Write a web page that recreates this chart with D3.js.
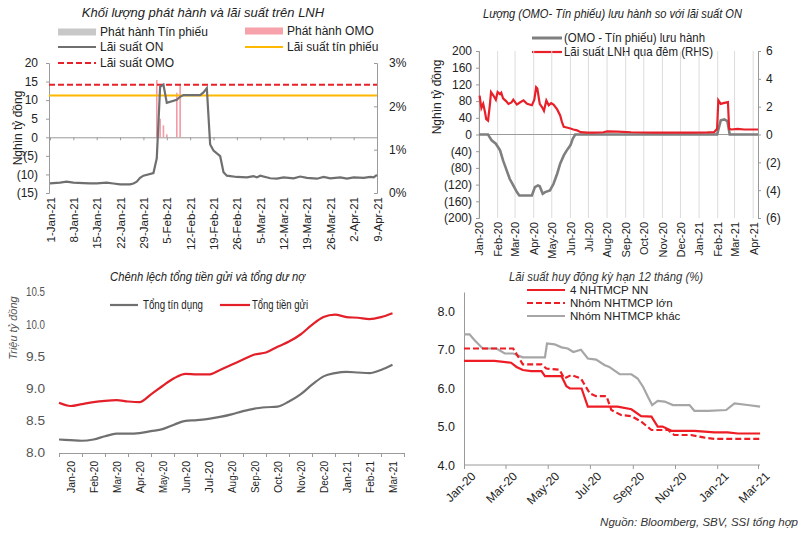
<!DOCTYPE html>
<html>
<head>
<meta charset="utf-8">
<script src="https://cdn.jsdelivr.net/npm/d3@7"></script>
<style>
  body { margin: 0; background: #fff; }
  svg { display: block; font-family: "Liberation Sans", Arial, sans-serif; }
  .axis path, .axis line { stroke: #9a9a9a; }
  .axis text { fill: #222; }
</style>
</head>
<body>
<svg id="chart" width="810" height="538"></svg>
<script>
// ---------- data: top-left (Jan-Apr 2021) ----------
const onRate = [
  ["2021-01-01", 0.22], ["2021-01-04", 0.24], ["2021-01-06", 0.26], ["2021-01-08", 0.24],
  ["2021-01-11", 0.23], ["2021-01-13", 0.22], ["2021-01-15", 0.22], ["2021-01-18", 0.24],
  ["2021-01-20", 0.22], ["2021-01-22", 0.20], ["2021-01-25", 0.20], ["2021-01-26", 0.22],
  ["2021-01-27", 0.26], ["2021-01-28", 0.35], ["2021-01-29", 0.40], ["2021-02-01", 0.46],
  ["2021-02-02", 0.80], ["2021-02-03", 2.45], ["2021-02-04", 2.50], ["2021-02-05", 2.08],
  ["2021-02-08", 2.15], ["2021-02-09", 2.22], ["2021-02-10", 2.26], ["2021-02-15", 2.26],
  ["2021-02-16", 2.32], ["2021-02-17", 2.42], ["2021-02-18", 1.12], ["2021-02-19", 0.98],
  ["2021-02-21", 0.85], ["2021-02-22", 0.48], ["2021-02-23", 0.40], ["2021-02-26", 0.37],
  ["2021-03-01", 0.36], ["2021-03-03", 0.39], ["2021-03-04", 0.36], ["2021-03-05", 0.40],
  ["2021-03-08", 0.34], ["2021-03-10", 0.33], ["2021-03-12", 0.36], ["2021-03-15", 0.34],
  ["2021-03-17", 0.38], ["2021-03-19", 0.35], ["2021-03-22", 0.33], ["2021-03-24", 0.37],
  ["2021-03-26", 0.34], ["2021-03-29", 0.36], ["2021-03-31", 0.33], ["2021-04-02", 0.36],
  ["2021-04-05", 0.35], ["2021-04-07", 0.37], ["2021-04-08", 0.36], ["2021-04-09", 0.42]
]
const omoIssue = [
  ["2021-02-02", 15.4], ["2021-02-03", 5.0], ["2021-02-04", 3.2],
  ["2021-02-05", 0.8], ["2021-02-08", 12.0], ["2021-02-09", 14.0]
]
const billIssue = []
const omoRate = 2.5
const billRate = 2.25
const tlLeftTicks = [-15, -10, -5, 0, 5, 10, 15, 20]
const tlRightTicks = [0, 1, 2, 3]

// ---------- data: top-right (2020-2021) ----------
const netOutstanding = [
  ["2020-01-01", 0], ["2020-01-16", 0], ["2020-01-22", -14], ["2020-01-29", -22],
  ["2020-02-05", -38], ["2020-02-10", -62], ["2020-02-16", -86], ["2020-02-21", -106],
  ["2020-02-27", -122], ["2020-03-04", -138], ["2020-03-08", -146], ["2020-03-29", -146],
  ["2020-04-03", -126], ["2020-04-08", -122], ["2020-04-11", -124], ["2020-04-16", -142],
  ["2020-04-20", -138], ["2020-04-28", -134], ["2020-05-04", -118], ["2020-05-10", -94],
  ["2020-05-15", -70], ["2020-05-21", -50], ["2020-05-26", -38], ["2020-06-01", -26],
  ["2020-06-05", -10], ["2020-06-09", 0], ["2021-01-31", 0], ["2021-02-06", 34],
  ["2021-02-12", 36], ["2021-02-17", 32], ["2021-02-21", 0], ["2021-04-09", 0]
]
const onRate2020 = [
  ["2020-01-02", 2.8], ["2020-01-05", 1.9], ["2020-01-08", 2.2], ["2020-01-11", 1.6],
  ["2020-01-13", 1.1], ["2020-01-16", 1.0], ["2020-01-19", 2.1], ["2020-01-21", 3.05],
  ["2020-01-25", 2.8], ["2020-01-29", 2.5], ["2020-02-01", 3.05], ["2020-02-05", 2.9],
  ["2020-02-07", 3.0], ["2020-02-10", 2.6], ["2020-02-15", 2.4], ["2020-02-19", 2.2],
  ["2020-02-24", 2.3], ["2020-02-27", 2.5], ["2020-03-04", 2.15], ["2020-03-09", 2.3],
  ["2020-03-15", 2.45], ["2020-03-21", 2.2], ["2020-03-29", 2.1], ["2020-04-02", 2.5],
  ["2020-04-05", 3.4], ["2020-04-07", 3.3], ["2020-04-11", 2.2], ["2020-04-15", 1.95],
  ["2020-04-18", 1.7], ["2020-04-22", 2.45], ["2020-04-26", 2.1], ["2020-04-30", 2.25],
  ["2020-05-04", 2.15], ["2020-05-10", 1.8], ["2020-05-15", 1.37], ["2020-05-18", 0.89],
  ["2020-05-21", 0.55], ["2020-05-26", 0.5], ["2020-06-01", 0.43], ["2020-06-06", 0.36],
  ["2020-06-12", 0.3], ["2020-06-18", 0.17], ["2020-06-29", 0.14], ["2020-07-10", 0.14],
  ["2020-07-26", 0.16], ["2020-08-01", 0.22], ["2020-08-18", 0.2], ["2020-09-10", 0.16],
  ["2020-10-15", 0.14], ["2020-11-20", 0.14], ["2020-12-20", 0.13], ["2021-01-15", 0.15],
  ["2021-01-26", 0.17], ["2021-01-31", 0.41], ["2021-02-02", 2.46], ["2021-02-06", 2.2],
  ["2021-02-12", 2.27], ["2021-02-18", 2.33], ["2021-02-20", 0.4], ["2021-02-24", 0.36],
  ["2021-03-06", 0.4], ["2021-03-17", 0.36], ["2021-04-09", 0.36]
]
const trLeftTicks = [-200, -160, -120, -80, -40, 0, 40, 80, 120, 160, 200]
const trRightTicks = [-6, -4, -2, 0, 2, 4, 6]

// ---------- data: bottom-left (semi-monthly, trillion VND) ----------
const blMonths = ["Jan-20", "Feb-20", "Mar-20", "Apr-20", "May-20", "Jun-20", "Jul-20", "Aug-20",
  "Sep-20", "Oct-20", "Nov-20", "Dec-20", "Jan-21", "Feb-21", "Mar-21"]
const totalCredit = [8.21, 8.20, 8.19, 8.21, 8.26, 8.30, 8.30, 8.31, 8.34, 8.37, 8.44, 8.50, 8.51, 8.53, 8.56,
  8.60, 8.65, 8.69, 8.71, 8.72, 8.80, 8.91, 9.06, 9.19, 9.24, 9.26, 9.25, 9.24, 9.29, 9.37]
const totalDeposit = [8.78, 8.73, 8.76, 8.79, 8.81, 8.82, 8.80, 8.79, 8.91, 9.04, 9.16, 9.23, 9.22, 9.22, 9.29,
  9.37, 9.45, 9.53, 9.56, 9.65, 9.73, 9.84, 9.99, 10.11, 10.15, 10.11, 10.10, 10.08, 10.11, 10.17]
const blTicks = [8.0, 8.5, 9.0, 9.5, 10.0, 10.5]

// ---------- data: bottom-right (12M deposit rate, %) ----------
const stateBanks = [
  ["2020-01-01", 6.71], ["2020-02-14", 6.71], ["2020-03-09", 6.66], ["2020-03-17", 6.55],
  ["2020-03-26", 6.47], ["2020-04-07", 6.44], ["2020-04-22", 6.44], ["2020-04-27", 6.31],
  ["2020-05-21", 6.31], ["2020-05-28", 6.05], ["2020-06-02", 5.99], ["2020-06-19", 5.99],
  ["2020-06-28", 5.52], ["2020-08-10", 5.52], ["2020-08-30", 5.45], ["2020-09-13", 5.27],
  ["2020-09-28", 5.26], ["2020-10-07", 5.0], ["2020-10-14", 5.0], ["2020-10-27", 4.89],
  ["2020-11-29", 4.89], ["2020-12-28", 4.85], ["2021-01-16", 4.85], ["2021-01-31", 4.82],
  ["2021-03-04", 4.82]
]
const largeBanks = [
  ["2020-01-01", 7.03], ["2020-03-12", 7.03], ["2020-03-26", 6.62], ["2020-04-22", 6.62],
  ["2020-04-29", 6.51], ["2020-05-18", 6.48], ["2020-05-25", 6.25], ["2020-06-04", 6.34],
  ["2020-06-18", 6.25], ["2020-07-01", 5.86], ["2020-07-10", 5.79], ["2020-07-25", 5.79],
  ["2020-08-01", 5.43], ["2020-08-15", 5.30], ["2020-08-30", 5.27], ["2020-09-13", 5.13],
  ["2020-09-28", 4.91], ["2020-10-22", 4.91], ["2020-10-31", 4.78], ["2020-11-24", 4.78],
  ["2020-12-14", 4.71], ["2020-12-28", 4.68], ["2021-03-04", 4.68]
]
const otherBanks = [
  ["2020-01-01", 7.40], ["2020-01-09", 7.40], ["2020-01-16", 7.25], ["2020-01-28", 7.03],
  ["2020-02-17", 7.03], ["2020-02-29", 6.90], ["2020-03-12", 6.90], ["2020-03-26", 6.80],
  ["2020-04-27", 6.80], ["2020-04-30", 7.16], ["2020-05-11", 7.14], ["2020-05-21", 7.06],
  ["2020-05-30", 7.03], ["2020-06-07", 6.94], ["2020-06-18", 7.00], ["2020-06-28", 6.77],
  ["2020-07-10", 6.74], ["2020-07-22", 6.60], ["2020-07-29", 6.55], ["2020-08-13", 6.36],
  ["2020-08-30", 6.36], ["2020-09-08", 6.25], ["2020-09-16", 6.03], ["2020-09-23", 5.77],
  ["2020-09-29", 5.56], ["2020-10-07", 5.67], ["2020-10-17", 5.65], ["2020-10-29", 5.56],
  ["2020-11-22", 5.56], ["2020-11-29", 5.41], ["2020-12-19", 5.41], ["2021-01-14", 5.43],
  ["2021-01-26", 5.60], ["2021-02-14", 5.56], ["2021-03-04", 5.52]
]
const brTicks = [4, 5, 6, 7, 8]

// ---------- helpers ----------
const parse = d3.timeParse("%Y-%m-%d")
const RED = "#e8202a"
const svg = d3.select("#chart")
svg.append("rect").attr("width", 810).attr("height", 538).attr("fill", "#fff")

const paren = (d) => (d < 0 ? `(${-d})` : `${d}`)

// narrow look: squeeze text to the width it has in the source picture
function squeeze(sel, width) {
  return sel.attr("textLength", width).attr("lengthAdjust", "spacingAndGlyphs")
}

function legendItem(g, x, y, kind, color, label, opts = {}) {
  const len = opts.len || 38
  if (kind === "rect") {
    g.append("rect").attr("x", x).attr("y", y - 3.5).attr("width", len).attr("height", 7).attr("fill", color)
  } else {
    g.append("line").attr("x1", x).attr("x2", x + len).attr("y1", y).attr("y2", y)
      .attr("stroke", color).attr("stroke-width", kind === "thick" ? 3 : 2.2)
      .attr("stroke-dasharray", kind === "dash" ? "6,3" : null)
  }
  const t = g.append("text").attr("x", x + len + (opts.gap || 4)).attr("y", y).attr("dy", "0.35em")
    .attr("font-size", opts.size || 12).attr("fill", "#222").text(label)
  if (opts.width) squeeze(t, opts.width)
}

// ================= top-left =================
{
  const g = svg.append("g")
  const x = d3.scaleTime().domain([parse("2021-01-01"), parse("2021-04-09")]).range([50, 377])
  const yL = d3.scaleLinear().domain([-15, 20]).range([193, 63])
  const yR = d3.scaleLinear().domain([0, 3]).range([193, 63])

  g.append("text").attr("x", 203).attr("y", 17).attr("text-anchor", "middle")
    .attr("font-size", 13).attr("font-style", "italic").attr("fill", "#222")
    .text("Khối lượng phát hành và lãi suất trên LNH")

  legendItem(g, 58, 32, "rect", "#c8c8c8", "Phát hành  Tín phiếu")
  legendItem(g, 245, 31, "rect", "#f7a1ab", "Phát hành OMO")
  legendItem(g, 58, 47, "line", "#6f6f6f", "Lãi suất ON")
  legendItem(g, 245, 47, "line", "#ffb800", "Lãi suất tín phiếu")
  legendItem(g, 58, 63, "dash", RED, "Lãi suất OMO")

  const left = g.append("g").attr("class", "axis").attr("transform", "translate(49,0)")
    .call(d3.axisLeft(yL).tickValues(tlLeftTicks).tickFormat(paren).tickSize(3).tickPadding(8))
  left.selectAll("text").attr("font-size", 12).attr("fill", (d) => (d < 0 ? RED : "#222"))

  const right = g.append("g").attr("class", "axis").attr("transform", "translate(377,0)")
    .call(d3.axisRight(yR).tickValues(tlRightTicks).tickFormat((d) => d + "%").tickSize(-3).tickPadding(12))
  right.selectAll("text").attr("font-size", 12)

  const weeks = d3.timeDay.range(parse("2021-01-01"), parse("2021-04-10"), 7)
  g.append("g").attr("class", "axis").attr("transform", `translate(0,${yL(0)})`)
    .call(d3.axisBottom(x).tickValues(weeks).tickFormat("").tickSize(3).tickSizeOuter(0))

  const lab = g.append("g").attr("class", "axis").attr("transform", "translate(0,197)")
    .call(d3.axisBottom(x).tickValues(weeks).tickFormat(d3.timeFormat("%-d-%b-%y")).tickSize(0))
  lab.select(".domain").remove()
  lab.selectAll("text").attr("font-size", 11.5).attr("text-anchor", "end")
    .attr("transform", "rotate(-90)").attr("x", 0).attr("y", 0).attr("dx", 0).attr("dy", "0.35em")

  g.append("text").attr("transform", "translate(22,128) rotate(-90)").attr("text-anchor", "middle")
    .attr("font-size", 12).attr("fill", "#222").text("Nghìn tỷ đồng")

  g.selectAll(".billbar").data(billIssue).join("rect").attr("class", "billbar")
    .attr("x", (d) => x(parse(d[0])) - 0.8).attr("width", 1.6)
    .attr("y", (d) => yL(d[1])).attr("height", (d) => yL(0) - yL(d[1])).attr("fill", "#c8c8c8")
  g.selectAll(".omobar").data(omoIssue).join("rect").attr("class", "omobar")
    .attr("x", (d) => x(parse(d[0])) - 0.8).attr("width", 1.6)
    .attr("y", (d) => yL(d[1])).attr("height", (d) => yL(0) - yL(d[1])).attr("fill", "#f29aa5")

  g.append("line").attr("x1", 49).attr("x2", 377).attr("y1", yR(billRate)).attr("y2", yR(billRate))
    .attr("stroke", "#ffb800").attr("stroke-width", 2.2)
  g.append("line").attr("x1", 49).attr("x2", 377).attr("y1", yR(omoRate)).attr("y2", yR(omoRate))
    .attr("stroke", RED).attr("stroke-width", 2).attr("stroke-dasharray", "6,3")

  const line = d3.line().x((d) => x(parse(d[0]))).y((d) => yR(d[1]))
  g.append("path").datum(onRate).attr("d", line).attr("fill", "none")
    .attr("stroke", "#6f6f6f").attr("stroke-width", 2.2)
}

// ================= top-right =================
{
  const g = svg.append("g")
  const x = d3.scaleTime().domain([parse("2020-01-01"), parse("2021-04-09")]).range([479, 758])
  const yL = d3.scaleLinear().domain([-200, 200]).range([218, 51])
  const yR = d3.scaleLinear().domain([-6, 6]).range([218, 51])

  squeeze(g.append("text").attr("x", 483).attr("y", 18)
    .attr("font-size", 13).attr("font-style", "italic").attr("fill", "#222")
    .text("Lượng (OMO- Tín phiếu) lưu hành so với lãi suất ON"), 259)

  legendItem(g, 532, 38, "thick", "#7f7f7f", "(OMO - Tín phiếu) lưu hành", { len: 30, gap: 2, width: 141 })
  legendItem(g, 532, 52, "line", RED, "Lãi suất LNH qua đêm (RHS)", { len: 30, gap: 2, width: 149 })

  const months = d3.timeMonth.range(parse("2020-01-01"), parse("2021-04-09"))
  g.append("g").selectAll("line").data(months).join("line")
    .attr("x1", (d) => x(d)).attr("x2", (d) => x(d)).attr("y1", 51).attr("y2", 218)
    .attr("stroke", "#dcdcdc").attr("stroke-width", 1)

  const left = g.append("g").attr("class", "axis").attr("transform", "translate(479,0)")
    .call(d3.axisLeft(yL).tickValues(trLeftTicks).tickFormat(paren).tickSize(3).tickPadding(4))
  left.selectAll("text").attr("font-size", 12).attr("fill", (d) => (d < 0 ? RED : "#222"))

  const right = g.append("g").attr("class", "axis").attr("transform", "translate(758,0)")
    .call(d3.axisRight(yR).tickValues(trRightTicks).tickFormat(paren).tickSize(3).tickPadding(5))
  right.selectAll("text").attr("font-size", 12).attr("fill", (d) => (d < 0 ? RED : "#222"))

  g.append("line").attr("x1", 479).attr("x2", 758).attr("y1", yL(0)).attr("y2", yL(0))
    .attr("stroke", "#9a9a9a")

  const lab = g.append("g").attr("class", "axis").attr("transform", "translate(0,222)")
    .call(d3.axisBottom(x).tickValues(months).tickFormat(d3.timeFormat("%b-%y")).tickSize(0))
  lab.select(".domain").remove()
  lab.selectAll("text").attr("font-size", 11).attr("text-anchor", "end")
    .attr("transform", "rotate(-90)").attr("x", 0).attr("y", 0).attr("dx", 0).attr("dy", "0.35em")

  g.append("text").attr("transform", "translate(441,97) rotate(-90)").attr("text-anchor", "middle")
    .attr("font-size", 12).attr("fill", "#222").text("Nghìn tỷ đồng")

  g.append("path").datum(netOutstanding)
    .attr("d", d3.line().x((d) => x(parse(d[0]))).y((d) => yL(d[1])))
    .attr("fill", "none").attr("stroke", "#7f7f7f").attr("stroke-width", 2.6)
  g.append("path").datum(onRate2020)
    .attr("d", d3.line().x((d) => x(parse(d[0]))).y((d) => yR(d[1])))
    .attr("fill", "none").attr("stroke", RED).attr("stroke-width", 2.2)
}

// ================= bottom-left =================
{
  const g = svg.append("g")
  const band = d3.scaleBand().domain(blMonths).range([59, 404])
  const xi = d3.scaleLinear().domain([0, 30]).range([59, 404])
  const y = d3.scaleLinear().domain([8, 10.5]).range([453, 292])

  squeeze(g.append("text").attr("x", 110).attr("y", 281)
    .attr("font-size", 13).attr("font-style", "italic").attr("fill", "#222")
    .text("Chênh lệch tổng tiền gửi và tổng dư nợ"), 195)

  legendItem(g, 110, 305, "line", "#707070", "Tổng tín dụng", { len: 28, gap: 5, size: 12.5, width: 60 })
  legendItem(g, 220, 305, "line", "#e3202a", "Tổng tiền gửi", { len: 30, gap: 2, size: 12.5, width: 56 })

  const yAxis = g.append("g").attr("transform", "translate(48,0)")
    .call(d3.axisLeft(y).tickValues(blTicks).tickFormat(d3.format(".1f")).tickSize(0))
  yAxis.select(".domain").remove()
  yAxis.selectAll("text").attr("font-size", 12).attr("fill", "#555")
    .attr("textLength", 19).attr("lengthAdjust", "spacingAndGlyphs")

  g.append("text").attr("transform", "translate(17,328) rotate(-90)").attr("text-anchor", "middle")
    .attr("font-size", 11).attr("font-style", "italic").attr("fill", "#555").text("Triệu tỷ đồng")

  g.append("g").attr("class", "axis").attr("transform", "translate(0,453)")
    .call(d3.axisBottom(xi).tickValues(d3.range(0, 31, 2)).tickFormat("").tickSize(4).tickSizeOuter(0))

  const lab = g.append("g").attr("class", "axis").attr("transform", "translate(0,461)")
    .call(d3.axisBottom(band).tickSize(0))
  lab.select(".domain").remove()
  lab.selectAll("text").attr("font-size", 11.5).attr("fill", "#444").attr("text-anchor", "end")
    .attr("transform", "rotate(-90)").attr("x", 0).attr("y", 0).attr("dx", 0).attr("dy", "0.35em")
    .attr("textLength", 32).attr("lengthAdjust", "spacingAndGlyphs")

  const line = d3.line().x((d, i) => xi(i)).y((d) => y(d)).curve(d3.curveMonotoneX)
  g.append("path").datum(totalCredit).attr("d", line).attr("fill", "none")
    .attr("stroke", "#707070").attr("stroke-width", 2.2)
  g.append("path").datum(totalDeposit).attr("d", line).attr("fill", "none")
    .attr("stroke", "#e3202a").attr("stroke-width", 2.2)
}

// ================= bottom-right =================
{
  const g = svg.append("g")
  const x = d3.scaleTime().domain([parse("2020-01-01"), parse("2021-03-01")]).range([464, 758])
  const y = d3.scaleLinear().domain([4, 8.5]).range([465, 292])

  squeeze(g.append("text").attr("x", 509).attr("y", 281)
    .attr("font-size", 13).attr("font-style", "italic").attr("fill", "#333")
    .text("Lãi suất huy động kỳ hạn 12 tháng (%)"), 194)

  legendItem(g, 527, 290, "line", "#ee1c25", "4 NHTMCP NN", { gap: 5, size: 11.5 })
  legendItem(g, 527, 303, "dash", "#ee1c25", "Nhóm NHTMCP lớn", { gap: 5, size: 11.5 })
  legendItem(g, 527, 316, "line", "#a6a6a6", "Nhóm NHTMCP khác", { gap: 5, size: 11.5 })

  const yAxis = g.append("g").attr("class", "axis").attr("transform", "translate(464,0)")
    .call(d3.axisLeft(y).tickValues(brTicks).tickFormat(d3.format(".1f")).tickSize(0).tickPadding(9))
  yAxis.select(".domain").attr("stroke", "#b0b0b0")
  yAxis.selectAll("text").attr("font-size", 12.5)

  const ticks = d3.timeMonth.range(parse("2020-01-01"), parse("2021-03-02"), 2)
  const xAxis = g.append("g").attr("class", "axis").attr("transform", "translate(0,465)")
    .call(d3.axisBottom(x).tickValues(ticks).tickFormat(d3.timeFormat("%b-%y")).tickSize(4).tickSizeOuter(0))
  xAxis.select(".domain").attr("d", "M464,0H760").attr("stroke", "#b0b0b0")
  xAxis.selectAll("text").attr("font-size", 12).attr("text-anchor", "end")
    .attr("transform", "translate(4,4) rotate(-45)").attr("dy", "0.35em")

  const line = d3.line().x((d) => x(parse(d[0]))).y((d) => y(d[1]))
  g.append("path").datum(otherBanks).attr("d", line).attr("fill", "none")
    .attr("stroke", "#a6a6a6").attr("stroke-width", 2.2)
  g.append("path").datum(largeBanks).attr("d", line).attr("fill", "none")
    .attr("stroke", "#ee1c25").attr("stroke-width", 2.2).attr("stroke-dasharray", "6,3")
  g.append("path").datum(stateBanks).attr("d", line).attr("fill", "none")
    .attr("stroke", "#ee1c25").attr("stroke-width", 2.2)

  g.append("text").attr("x", 798).attr("y", 526).attr("text-anchor", "end")
    .attr("font-size", 11.5).attr("font-style", "italic").attr("fill", "#333")
    .text("Nguồn:  Bloomberg, SBV, SSI tổng hợp")
}
</script>
</body>
</html>
